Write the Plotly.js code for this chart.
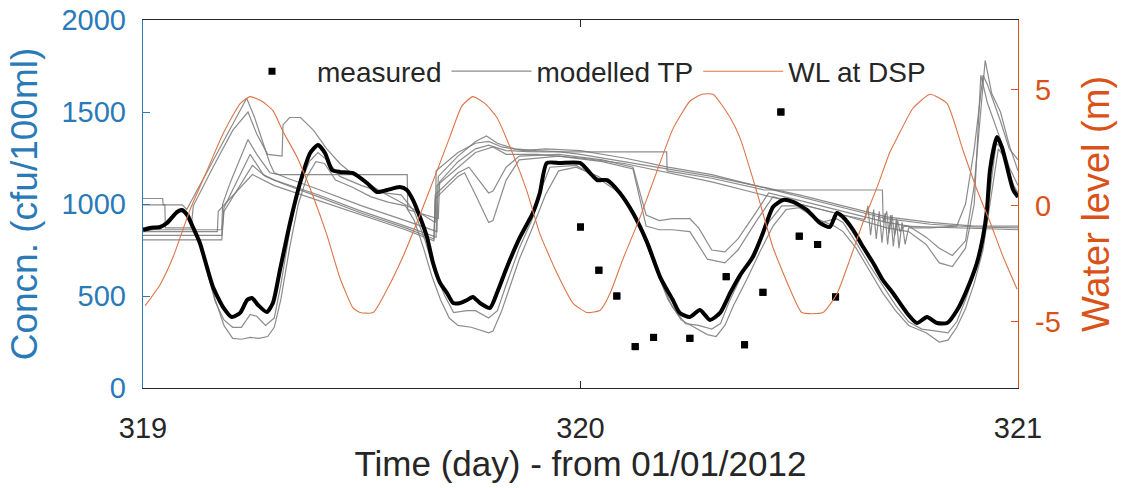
<!DOCTYPE html>
<html>
<head>
<meta charset="utf-8">
<script src="https://cdn.plot.ly/plotly-3.0.1.min.js"></script>
<style>html,body{margin:0;padding:0;background:#fff;}#chart{width:1121px;height:488px;}</style>
</head>
<body>
<div id="chart"></div>
<script>
// ---------- data ----------
// measured concentrations (cfu/100ml), hourly samples
const measT = [320.000, 320.042, 320.083, 320.125, 320.167, 320.250, 320.333, 320.375, 320.417, 320.458, 320.500, 320.542, 320.583];
const measC = [875, 640, 500, 225, 275, 270, 605, 235, 520, 1500, 825, 780, 495];

// water level at DSP (m)
const wlT = [319.005,319.039,319.069,319.107,319.146,319.183,319.222,319.245,319.272,319.297,319.320,319.352,319.389,319.421,319.450,319.480,319.496,319.526,319.558,319.594,319.633,319.672,319.702,319.729,319.754,319.782,319.809,319.846,319.878,319.907,319.946,319.983,320.015,320.045,320.067,320.097,320.136,320.175,320.211,320.250,320.278,320.303,320.342,320.365,320.403,320.440,320.479,320.506,320.554,320.586,320.616,320.646,320.678,320.707,320.723,320.760,320.799,320.838,320.874,320.906,320.936,320.966,320.998];
const wlV = [-4.3,-3.4,-2.2,-0.2,1.5,3.1,4.4,4.7,4.5,4.1,3.2,2.1,0.4,-1.3,-3.1,-4.4,-4.6,-4.6,-3.6,-2.2,-0.4,1.5,3.0,4.3,4.7,4.4,3.8,2.2,0.6,-1.2,-2.9,-4.2,-4.6,-4.5,-3.8,-2.3,-0.5,1.5,3.3,4.5,4.8,4.8,3.8,2.9,0.6,-1.8,-3.6,-4.6,-4.6,-3.8,-2.3,-0.7,0.8,2.3,2.9,4.2,4.8,4.4,2.4,0.7,-0.7,-2.2,-3.6];

// modelled TP, ensemble mean (thick black)
const meanT = [319.000,319.016,319.039,319.055,319.078,319.089,319.101,319.114,319.130,319.146,319.160,319.183,319.203,319.222,319.238,319.249,319.263,319.283,319.297,319.313,319.336,319.359,319.382,319.400,319.416,319.432,319.450,319.480,319.512,319.535,319.558,319.587,319.603,319.617,319.633,319.649,319.663,319.679,319.695,319.709,319.725,319.741,319.754,319.770,319.793,319.809,319.832,319.862,319.891,319.907,319.923,319.953,319.999,320.022,320.038,320.061,320.090,320.120,320.152,320.182,320.211,320.227,320.250,320.273,320.296,320.319,320.342,320.365,320.394,320.417,320.440,320.463,320.486,320.518,320.547,320.570,320.586,320.600,320.623,320.646,320.669,320.691,320.714,320.746,320.769,320.792,320.815,320.838,320.861,320.883,320.906,320.920,320.929,320.936,320.952,320.963,320.975,320.989,321.000];
const meanC = [859,870,875,897,957,967,940,875,788,658,549,440,386,408,478,489,451,413,462,641,897,1114,1277,1321,1277,1185,1174,1168,1114,1065,1076,1092,1076,1022,929,821,679,571,516,462,462,478,495,462,435,516,658,821,951,1060,1223,1223,1223,1168,1130,1130,1060,951,793,603,478,408,386,424,370,408,516,614,712,842,984,1022,1011,967,897,875,951,929,859,766,679,587,516,408,353,386,353,353,424,533,679,821,967,1185,1364,1310,1201,1076,1038];

// modelled TP, individual runs (thin grey)
const runAT = [319.000,319.045,319.046,319.090,319.100,319.150,319.200,319.237,319.255,319.275,319.290,319.300,319.330,319.400,319.500,319.600,319.672,319.675,319.720,319.760,319.785,319.810,319.850,319.900,319.950,320.000,320.100,320.200,320.300,320.400,320.500,320.600,320.700,320.800,320.900,321.000];
const runAC = [1030,1030,995,995,970,1190,1410,1575,1470,1320,1220,1170,1140,1080,990,910,850,1150,1260,1340,1370,1330,1300,1290,1285,1270,1230,1190,1150,1100,1040,980,920,890,875,870];

const runBT = [319.000,319.050,319.051,319.110,319.115,319.160,319.205,319.240,319.260,319.285,319.318,319.320,319.335,319.360,319.390,319.420,319.450,319.480,319.550,319.620,319.668,319.670,319.720,319.760,319.790,319.820,319.870,319.920,320.000,320.100,320.200,320.300,320.400,320.500,320.600,320.700,320.800,320.900,321.000];
const runBC = [995,995,870,870,990,1200,1400,1500,1380,1270,1260,1430,1470,1470,1400,1300,1220,1160,1060,970,900,1180,1280,1330,1340,1310,1290,1300,1290,1250,1200,1160,1100,1050,990,930,900,880,880];

const runCT = [319.000,319.180,319.182,319.200,319.240,319.260,319.290,319.310,319.604,319.605,319.675,319.678,319.720,319.760,319.790,319.830,319.880,319.920,320.197,320.198,320.300,320.400,320.420,320.690,320.692,320.700,320.705,320.712,320.718,320.725,320.730,320.740,320.800,320.900,321.000];
const runCC = [860,860,1000,1120,1350,1270,1170,1160,1160,970,920,1120,1230,1300,1320,1290,1285,1283,1283,1180,1140,1090,1076,1076,900,960,840,940,830,910,850,880,875,865,860];

const runDT = [319.000,319.180,319.185,319.245,319.275,319.300,319.400,319.500,319.600,319.670,319.672,319.720,319.760,319.800,319.830,319.900,320.000,320.100,320.200,320.300,320.400,320.500,320.600,320.650,320.657,320.663,320.670,320.676,320.683,320.689,320.696,320.702,320.709,320.715,320.722,320.728,320.735,320.742,320.750,320.800,320.860,320.880,320.900,320.920,320.930,320.960,320.980,321.000];
const runDC = [830,830,980,1270,1160,1130,1050,960,880,820,1100,1200,1280,1310,1270,1270,1250,1220,1170,1120,1060,1000,940,915,990,830,970,810,960,790,950,780,940,770,920,760,900,780,870,870,880,1000,1300,1700,1650,1450,1300,1240];

const runET = [319.000,319.180,319.185,319.250,319.280,319.320,319.400,319.500,319.600,319.665,319.668,319.720,319.745,319.770,319.790,319.800,319.830,319.860,319.950,320.050,320.120,320.150,320.180,320.210,320.250,320.270,320.300,320.330,320.360,320.400,320.430,320.500,320.600,320.700,320.750,320.790,320.820,320.850,320.880,320.900,320.925,320.940,320.960,320.980,321.000];
const runEC = [805,805,960,1210,1150,1110,1040,950,870,810,1050,1170,1200,1120,1060,1070,1200,1260,1270,1240,1200,940,910,920,920,870,750,740,810,950,1060,1020,960,900,880,820,760,720,800,1100,1780,1600,1500,1320,1180];

const runFT = [319.000,319.170,319.172,319.250,319.300,319.400,319.500,319.600,319.665,319.668,319.720,319.735,319.760,319.790,319.800,319.830,319.860,319.950,320.050,320.120,320.150,320.180,320.210,320.250,320.290,320.330,320.360,320.400,320.440,320.500,320.600,320.700,320.750,320.790,320.820,320.850,320.880,320.900,320.915,320.930,320.960,320.980,321.000];
const runFC = [850,850,960,1160,1100,1020,940,860,800,1030,1150,1170,1050,900,910,1130,1240,1260,1230,1190,880,860,860,850,700,680,750,900,1040,1000,940,870,850,780,680,660,760,1000,1700,1550,1350,1200,1100];

const runGT = [319.000,319.040,319.085,319.105,319.125,319.145,319.165,319.185,319.205,319.225,319.245,319.265,319.285,319.300,319.315,319.335,319.355,319.375,319.395,319.415,319.440,319.480,319.520,319.560,319.600,319.620,319.640,319.660,319.680,319.700,319.720,319.750,319.790,319.800,319.820,319.840,319.860,319.890,319.920,319.950,319.990,320.040,320.080,320.110,320.140,320.170,320.200,320.230,320.260,320.290,320.310,320.330,320.350,320.380,320.410,320.440,320.470,320.500,320.540,320.580,320.600,320.630,320.660,320.690,320.720,320.750,320.790,320.820,320.840,320.860,320.880,320.900,320.920,320.940,320.955,320.970,320.990,321.000];
const runGC = [850,870,960,940,830,660,480,340,270,265,275,270,280,330,480,760,1000,1150,1230,1220,1130,1090,1040,1010,990,910,770,610,480,380,340,330,300,310,420,560,700,870,1050,1180,1200,1150,1090,990,850,660,480,370,330,290,280,340,450,590,740,880,970,980,920,880,850,760,640,520,420,340,300,250,260,330,430,570,750,1050,1300,1250,1100,1060];

const runHT = [319.000,319.040,319.085,319.105,319.125,319.145,319.165,319.185,319.205,319.225,319.245,319.260,319.280,319.300,319.315,319.335,319.355,319.380,319.400,319.420,319.450,319.500,319.550,319.590,319.620,319.645,319.665,319.690,319.710,319.740,319.760,319.790,319.810,319.830,319.860,319.890,319.910,319.930,319.990,320.040,320.090,320.120,320.150,320.180,320.210,320.240,320.270,320.300,320.320,320.340,320.370,320.400,320.430,320.460,320.500,320.550,320.585,320.600,320.630,320.660,320.690,320.720,320.750,320.780,320.810,320.840,320.860,320.880,320.900,320.920,320.935,320.950,320.965,320.980,321.000];
const runHC = [870,880,965,945,820,640,470,370,330,330,400,390,340,380,560,850,1080,1230,1280,1240,1150,1100,1060,1050,960,800,640,500,410,420,420,380,420,560,760,920,1080,1200,1210,1140,1060,950,790,600,440,350,340,320,350,470,620,760,900,990,990,900,920,900,790,670,560,450,360,320,310,300,360,480,620,800,1050,1330,1300,1150,1050];

const xTicks = [319, 320, 321];
const yTicks = [0, 500, 1000, 1500, 2000];
const y2Ticks = [-5, 0, 5];

// ---------- styling ----------
const FONT = 'Liberation Sans, Arial, Helvetica, sans-serif';
const BLUE = '#2a7ab8';
const ORANGE = '#d95319';
const WLCOL = '#dc7549';
const DARK = '#262626';
const GREY = 'rgba(120,120,120,0.85)';

const runs = [[runAT,runAC],[runBT,runBC],[runCT,runCC],[runDT,runDC],[runET,runEC],[runFT,runFC],[runGT,runGC],[runHT,runHC]];
const traces = [];
traces.push({x: measT, y: measC, type: 'scatter', mode: 'markers', name: 'measured',
  marker: {symbol: 'square', size: 7, color: '#000'}, yaxis: 'y', legendrank: 1});
runs.forEach((r, i) => {
  traces.push({x: r[0], y: r[1], type: 'scatter', mode: 'lines', name: 'modelled TP',
    line: {color: GREY, width: 1.2}, showlegend: i === 0, legendrank: 2, hoverinfo: 'skip'});
});
traces.push({x: meanT, y: meanC, type: 'scatter', mode: 'lines', name: 'mean',
  line: {color: '#000', width: 4, shape: 'spline', smoothing: 0.6}, showlegend: false});
traces.push({x: wlT, y: wlV, type: 'scatter', mode: 'lines', name: 'WL at DSP', yaxis: 'y2',
  line: {color: WLCOL, width: 1.1, shape: 'spline', smoothing: 0.5}, legendrank: 3});
// draw the measured markers on top
traces.push({x: measT, y: measC, type: 'scatter', mode: 'markers', name: 'measured',
  marker: {symbol: 'square', size: 7, color: '#000'}, showlegend: false});

const layout = {
  width: 1121, height: 488,
  margin: {l: 143, r: 103, t: 20, b: 100},
  paper_bgcolor: '#fff', plot_bgcolor: '#fff',
  font: {family: FONT, color: DARK},
  showlegend: true,
  legend: {orientation: 'h', x: 0.096, y: 0.86, xanchor: 'left', yanchor: 'middle',
    bgcolor: 'rgba(0,0,0,0)', font: {size: 28, color: DARK, family: FONT}, itemwidth: 80,
    traceorder: 'normal'},
  xaxis: {range: [319, 321], tickvals: xTicks, ticktext: xTicks.map(String),
    ticks: 'inside', ticklen: 7, tickcolor: DARK, tickwidth: 1,
    showline: true, linecolor: DARK, linewidth: 1.2, mirror: 'ticks',
    showgrid: false, zeroline: false, ticklabelstandoff: 14,
    tickfont: {size: 29, color: DARK},
    title: {text: 'Time (day) - from 01/01/2012', font: {size: 35, color: DARK}, standoff: 8}},
  yaxis: {range: [0, 2000], tickvals: yTicks, ticktext: yTicks.map(String),
    ticks: 'inside', ticklen: 7, tickcolor: BLUE, tickwidth: 1,
    showline: true, linecolor: BLUE, linewidth: 1.2,
    showgrid: false, zeroline: false, ticklabelstandoff: 10,
    tickfont: {size: 29, color: BLUE},
    title: {text: 'Concn. (cfu/100ml)', font: {size: 37, color: BLUE}, standoff: 12}},
  yaxis2: {range: [-7.85, 8], tickvals: y2Ticks, ticktext: y2Ticks.map(String),
    overlaying: 'y', side: 'right',
    ticks: 'inside', ticklen: 7, tickcolor: ORANGE, tickwidth: 1,
    showline: true, linecolor: ORANGE, linewidth: 1.2,
    showgrid: false, zeroline: false, ticklabelstandoff: 10,
    tickfont: {size: 29, color: ORANGE},
    title: {text: 'Water level (m)', font: {size: 38, color: ORANGE}, standoff: 22}}
};

Plotly.newPlot('chart', traces, layout, {displayModeBar: false, staticPlot: true});
</script>
</body>
</html>
